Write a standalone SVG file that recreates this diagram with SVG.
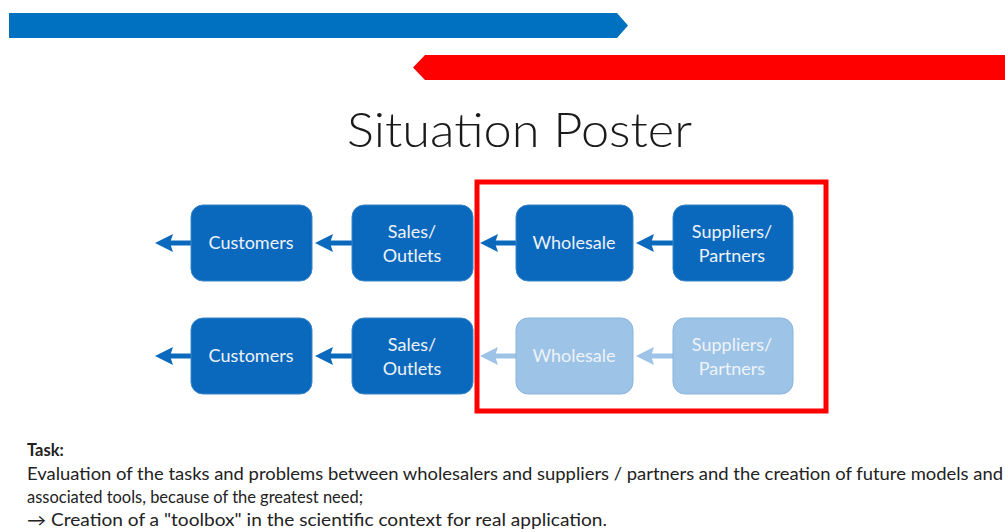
<svg xmlns="http://www.w3.org/2000/svg" width="1005" height="532" viewBox="0 0 1005 532">
<style>
.box{fill:#0a68bd;stroke:#3a86c8;stroke-width:1}
.lbox{fill:#9dc3e6;stroke:#8ab5dd;stroke-width:1}
.lbl{font-family:Lato,"Liberation Sans",sans-serif;font-size:18px;fill:#eef3f9;text-anchor:middle}
.con{stroke:#0a68bd;stroke-width:5;fill:none;marker-end:url(#ah)}
.lcon{stroke:#9dc3e6;stroke-width:5;fill:none;marker-end:url(#lah)}
.body{font-family:Lato,"Liberation Sans",sans-serif;font-size:16.5px;fill:#222222}
</style>
<defs>
<marker id="ah" markerUnits="userSpaceOnUse" markerWidth="18" markerHeight="18" viewBox="0 0 18 18" refX="3" refY="9" orient="auto"><path d="M0,0 L18,9 L0,18 L3,9 Z" fill="#0a68bd"/></marker>
<marker id="lah" markerUnits="userSpaceOnUse" markerWidth="18" markerHeight="18" viewBox="0 0 18 18" refX="3" refY="9" orient="auto"><path d="M0,0 L18,9 L0,18 L3,9 Z" fill="#9dc3e6"/></marker>
</defs>
<rect width="1005" height="532" fill="#ffffff"/>
<g id="bars">
<polygon points="9,13 617,13 628,25.5 617,38 9,38" fill="#0070c0"/>
<polygon points="1005,55 425,55 413,67.5 425,80 1005,80" fill="#ff0000"/>
</g>
<text id="title" x="347" y="147" font-family="Lato,'Liberation Sans',sans-serif" font-weight="300" font-size="47" fill="#1a1a1a" textLength="345" lengthAdjust="spacingAndGlyphs">Situation Poster</text>
<rect id="frame" x="477" y="182" width="349" height="229" fill="none" stroke="#ff0000" stroke-width="5"/>
<g id="connectors">
<line class="con" x1="191" y1="243" x2="170" y2="243"/>
<line class="con" x1="352" y1="243" x2="330" y2="243"/>
<line class="con" x1="516" y1="243" x2="495" y2="243"/>
<line class="con" x1="673" y1="243" x2="651" y2="243"/>
<line class="con" x1="191" y1="356" x2="170" y2="356"/>
<line class="con" x1="352" y1="356" x2="330" y2="356"/>
<line class="lcon" x1="516" y1="356" x2="495" y2="356"/>
<line class="lcon" x1="673" y1="356" x2="651" y2="356"/>
</g>
<g id="customers1"><rect class="box" x="191" y="205" width="121" height="76" rx="12"/><text class="lbl" x="251" y="249">Customers</text></g>
<g id="sales1"><rect class="box" x="352" y="205" width="121" height="76" rx="12"/><text class="lbl" x="412" y="238">Sales/</text><text class="lbl" x="412" y="262">Outlets</text></g>
<g id="wholesale1"><rect class="box" x="516" y="205" width="117" height="76" rx="12"/><text class="lbl" x="574" y="249">Wholesale</text></g>
<g id="suppliers1"><rect class="box" x="673" y="205" width="120" height="76" rx="12"/><text class="lbl" x="732" y="238">Suppliers/</text><text class="lbl" x="732" y="262">Partners</text></g>
<g id="customers2"><rect class="box" x="191" y="318" width="121" height="76" rx="12"/><text class="lbl" x="251" y="362">Customers</text></g>
<g id="sales2"><rect class="box" x="352" y="318" width="121" height="76" rx="12"/><text class="lbl" x="412" y="351">Sales/</text><text class="lbl" x="412" y="375">Outlets</text></g>
<g id="wholesale2"><rect class="lbox" x="516" y="318" width="117" height="76" rx="12"/><text class="lbl" x="574" y="362">Wholesale</text></g>
<g id="suppliers2"><rect class="lbox" x="673" y="318" width="120" height="76" rx="12"/><text class="lbl" x="732" y="351">Suppliers/</text><text class="lbl" x="732" y="375">Partners</text></g>
<g id="task">
<text class="body" x="27" y="456" font-weight="bold">Task:</text>
<text class="body" x="27" y="480" textLength="976" lengthAdjust="spacingAndGlyphs">Evaluation of the tasks and problems between wholesalers and suppliers / partners and the creation of future models and</text>
<text class="body" x="27" y="503" textLength="336" lengthAdjust="spacingAndGlyphs">associated tools, because of the greatest need;</text>
<text class="body" x="27" y="526" textLength="580" lengthAdjust="spacingAndGlyphs">→ Creation of a "toolbox" in the scientific context for real application.</text>
</g>
</svg>
